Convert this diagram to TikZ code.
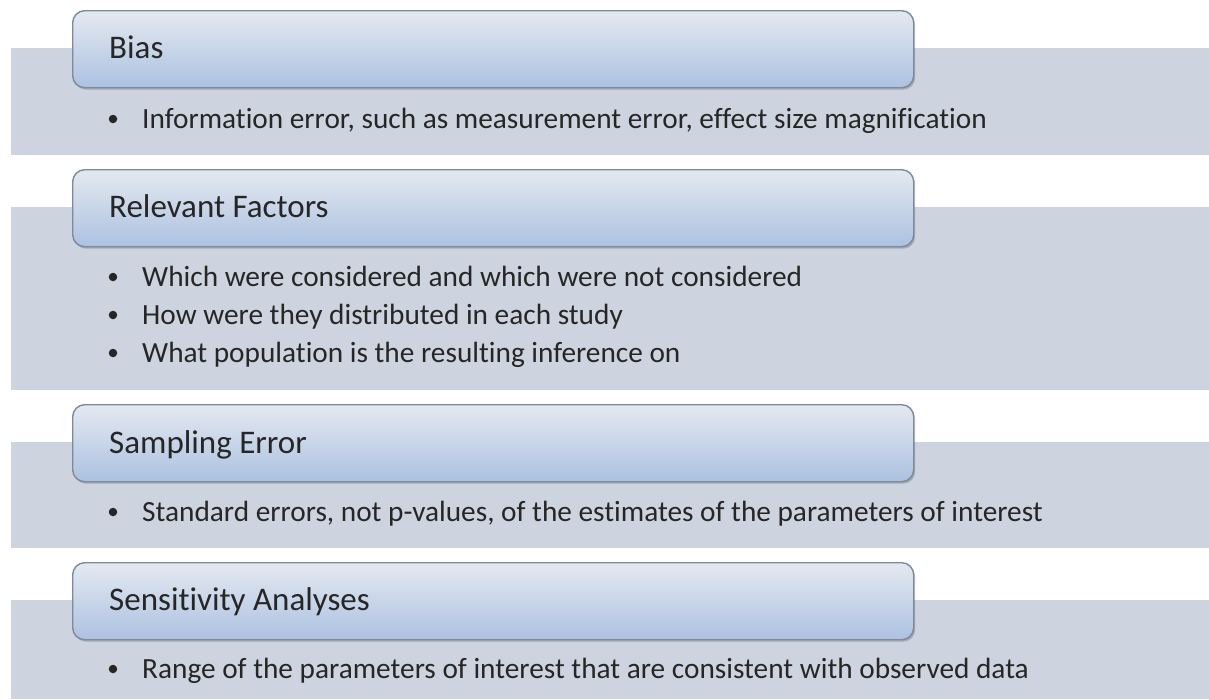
\documentclass[tikz,border=0pt]{standalone}
\usepackage{fontspec}
\setmainfont{Carlito}[Ligatures={NoCommon,NoRequired,NoContextual},Contextuals=NoAlternate]
\usetikzlibrary{shadows}
\definecolor{bandcol}{RGB}{205,212,223}
\definecolor{hdtop}{RGB}{228,233,240}
\definecolor{hdbot}{RGB}{172,193,225}
\definecolor{hdline}{RGB}{125,138,153}
\definecolor{txt}{RGB}{38,38,38}
\begin{document}
\begin{tikzpicture}[x=1pt,y=-1pt,
  band/.style={fill=bandcol,draw=none},
  header/.style={draw=hdline,line width=1.4pt,rounded corners=12pt,
    top color=hdtop,bottom color=hdbot,minimum width=841pt,minimum height=77pt,
    anchor=north west,inner sep=0pt,
    drop shadow={shadow xshift=1.5pt,shadow yshift=-2pt,opacity=0.3,fill=black!70}},
  htext/.style={anchor=base west,inner sep=0pt,text=txt,font=\fontsize{33}{40}\selectfont},
  btext/.style={anchor=base west,inner sep=0pt,text=txt,font=\fontsize{29.3}{35}\selectfont},
  dot/.style={circle,fill=txt,inner sep=0pt,minimum size=8.5pt}]
\useasboundingbox (0,0) rectangle (1209,699);
\fill[white] (0,0) rectangle (1209,699);
% bands
\fill[band] (11,48) rectangle (1209,155);
\fill[band] (11,207) rectangle (1209,390);
\fill[band] (11,442) rectangle (1209,548);
\fill[band] (11,600) rectangle (1209,699);
% headers
\node[header] (h1) at (72,10) {};
\node[header] (h2) at (72,169) {};
\node[header] (h3) at (72,404) {};
\node[header] (h4) at (72,562) {};
\node[htext] (t1) at (109,58) {Bias};
\node[htext] (t2) at (109,217) {Relevant Factors};
\node[htext] (t3) at (109,453) {Sampling Error};
\node[htext] (t4) at (109,610) {Sensitivity Analyses};
% bullets
\node[dot] (d1) at (113,119) {};
\node[btext] (b1) at (142,128) {Information error, such as measurement error, effect size magnification};
\node[dot] (d2) at (113,277) {};
\node[btext] (b2) at (142,286) {Which were considered and which were not considered};
\node[dot] (d3) at (113,315) {};
\node[btext] (b3) at (142,324) {How were they distributed in each study};
\node[dot] (d4) at (113,353) {};
\node[btext] (b4) at (142,362) {What population is the resulting inference on};
\node[dot] (d5) at (113,512) {};
\node[btext] (b5) at (142,521) {Standard errors, not p-values, of the estimates of the parameters of interest};
\node[dot] (d6) at (113,669) {};
\node[btext] (b6) at (142,678) {Range of the parameters of interest that are consistent with observed data};
\end{tikzpicture}
\end{document}
